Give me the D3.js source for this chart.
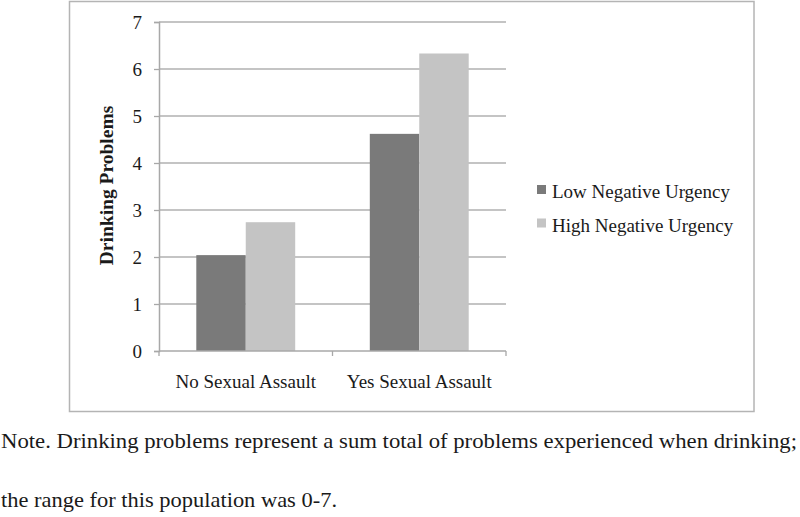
<!DOCTYPE html>
<html>
<head>
<meta charset="utf-8">
<script src="https://cdn.jsdelivr.net/npm/d3@7"></script>
<style>
  body { margin: 0; background: #fff; }
  svg text { fill: #1a1a1a; }
</style>
</head>
<body>
<svg width="800" height="517"></svg>
<script>
// data
var categories = ["No Sexual Assault", "Yes Sexual Assault"];
var seriesNames = ["Low Negative Urgency", "High Negative Urgency"];
var lowValues = [2.04, 4.62];
var highValues = [2.74, 6.33];
var yTicks = [0, 1, 2, 3, 4, 5, 6, 7];
var noteLines = [
  "Note. Drinking problems represent a sum total of problems experienced when drinking;",
  "the range for this population was 0-7."
];

var colors = ["#7a7a7a", "#c4c4c4"];
var chartFont = "'Liberation Serif', 'Times New Roman', serif";

var svg = d3.select("svg");

// chart frame
svg.append("rect")
    .attr("x", 69.5).attr("y", 1.5)
    .attr("width", 684.5).attr("height", 410)
    .attr("fill", "none")
    .attr("stroke", "#b4b4b4")
    .attr("stroke-width", 1.5);

var plot = { left: 159, right: 506, top: 22, bottom: 351 };

var x0 = d3.scaleBand()
    .domain(categories)
    .range([plot.left, plot.right])
    .paddingInner(0.43)
    .paddingOuter(0.215);

var x1 = d3.scaleBand()
    .domain([0, 1])
    .range([0, x0.bandwidth()]);

var y = d3.scaleLinear()
    .domain([0, 7])
    .range([plot.bottom, plot.top]);

var g = svg.append("g");

// gridlines
g.selectAll("line.grid")
  .data(yTicks.slice(1))
  .enter().append("line")
    .attr("class", "grid")
    .attr("x1", plot.left).attr("x2", plot.right)
    .attr("y1", function(d) { return y(d); })
    .attr("y2", function(d) { return y(d); })
    .attr("stroke", "#b0b0b0")
    .attr("stroke-width", 1.3);

// bars
var rows = categories.map(function(c, i) {
  return { cat: c, vals: [lowValues[i], highValues[i]] };
});

var groups = g.selectAll("g.cat")
  .data(rows)
  .enter().append("g")
    .attr("class", "cat")
    .attr("transform", function(d) { return "translate(" + x0(d.cat) + ",0)"; });

groups.selectAll("rect")
  .data(function(d) { return d.vals.map(function(v, k) { return { k: k, v: v }; }); })
  .enter().append("rect")
    .attr("x", function(d) { return x1(d.k); })
    .attr("y", function(d) { return y(d.v); })
    .attr("width", x1.bandwidth())
    .attr("height", function(d) { return y(0) - y(d.v); })
    .attr("fill", function(d) { return colors[d.k]; });

// y axis
var yAxis = g.append("g")
    .attr("transform", "translate(" + plot.left + ",0)")
    .call(d3.axisLeft(y).tickValues(yTicks).tickFormat(d3.format("d")).tickSize(5).tickPadding(12));
yAxis.select(".domain").attr("stroke", "#a8a8a8").attr("stroke-width", 1.5);
yAxis.selectAll(".tick line").attr("stroke", "#a8a8a8").attr("stroke-width", 1.3);
yAxis.selectAll(".tick text")
    .style("font-family", chartFont).style("font-size", "19px").attr("fill", "#1a1a1a");

// x axis
var xAxis = g.append("g")
    .attr("transform", "translate(0," + plot.bottom + ")")
    .call(d3.axisBottom(x0).tickSize(0).tickPadding(24));
xAxis.select(".domain").attr("stroke", "#a8a8a8").attr("stroke-width", 1.5)
    .attr("d", "M" + plot.left + ",0H" + plot.right);
// category boundary ticks
g.selectAll("line.xtick")
  .data([plot.left, (plot.left + plot.right) / 2, plot.right])
  .enter().append("line")
    .attr("x1", function(d) { return d; }).attr("x2", function(d) { return d; })
    .attr("y1", plot.bottom).attr("y2", plot.bottom + 5)
    .attr("stroke", "#a8a8a8").attr("stroke-width", 1.3);
xAxis.selectAll(".tick text")
    .style("font-family", chartFont).style("font-size", "19px").attr("fill", "#1a1a1a");

// y title
svg.append("text")
    .attr("transform", "translate(113,185.5) rotate(-90)")
    .attr("text-anchor", "middle")
    .style("font-family", chartFont).style("font-size", "19.5px").style("font-weight", "bold")
    .text("Drinking Problems");

// legend
var legend = svg.selectAll("g.legend")
  .data(seriesNames)
  .enter().append("g")
    .attr("class", "legend")
    .attr("transform", function(d, i) { return "translate(537," + (185 + i * 33.5) + ")"; });
legend.append("rect")
    .attr("width", 9).attr("height", 9)
    .attr("fill", function(d, i) { return colors[i]; });
legend.append("text")
    .attr("x", 15).attr("y", 13)
    .style("font-family", chartFont).style("font-size", "19px")
    .text(function(d) { return d; });

// note below the chart
var noteWidths = [796, 336];
svg.selectAll("text.note")
  .data(noteLines)
  .enter().append("text")
    .attr("class", "note")
    .attr("x", 1)
    .attr("y", function(d, i) { return 448 + i * 59; })
    .attr("textLength", function(d, i) { return noteWidths[i]; })
    .attr("lengthAdjust", "spacingAndGlyphs")
    .style("font-family", "'Liberation Serif', 'Times New Roman', serif")
    .style("font-size", "21px")
    .attr("fill", "#111")
    .text(function(d) { return d; });
</script>
</body>
</html>
